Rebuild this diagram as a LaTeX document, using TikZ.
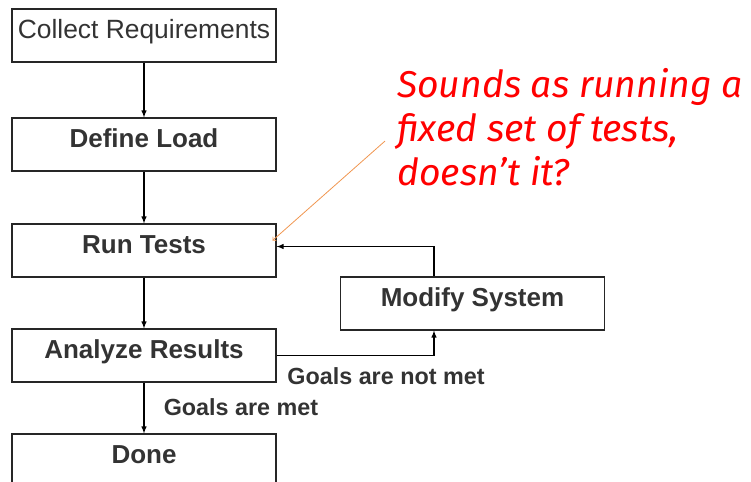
\documentclass[tikz,border=0pt]{standalone}
\usepackage{fontspec}
\setmainfont{Liberation Sans}
\newfontfamily\handfont{Fira Sans}
\usetikzlibrary{positioning,arrows}

\definecolor{txtgray}{RGB}{51,51,51}
\definecolor{notered}{RGB}{255,0,0}
\definecolor{noteline}{RGB}{240,150,80}

\begin{document}
\begin{tikzpicture}[
x=0.75pt,
y=-0.75pt,
stage/.style={
  draw=black!85,
  rectangle,
  line width=0.8pt,
  minimum width=198pt,
  minimum height=39.75pt,
  inner sep=0pt,
  text=txtgray,
  font=\fontsize{19.5}{22}\selectfont\bfseries,
  text height=0.72em,
  text depth=0.3em
  },
branch/.style={
  inner sep=0pt,
  text=txtgray,
  font=\fontsize{17.5}{20}\selectfont\bfseries
  },
remark/.style={
  inner sep=0pt,
  align=left,
  text=notered,
  font=\fontsize{28}{33}\selectfont\handfont\itshape
  },
>=latex
]
\useasboundingbox (0,0) rectangle (751,482);

% flow boxes
\node[stage, font=\fontsize{19.8}{22}\selectfont] (collect) at (144,35.5) {Collect Requirements};
\node[stage] (define) at (144,144.5) {Define Load};
\node[stage] (run) at (144,250.5) {Run Tests};
\node[stage] (modify) at (472.5,303.5) {Modify System};
\node[stage] (analyze) at (144,355.5) {Analyze Results};
\node[stage] (done) at (144,460.5) {Done};

% labels
\node[branch] (notmet) at (386,376) {Goals are not met};
\node[branch] (met) at (241,407) {Goals are met};

\node[remark, anchor=north west] (note) at (397,68)
  {Sounds as running a\\fixed set of tests,\\doesn’t it?};

% connectors
\draw[->, line width=0.85pt] (collect) -- (define);
\draw[->, line width=0.85pt] (define) -- (run);
\draw[->, line width=0.85pt] (run) -- (analyze);
\draw[->, line width=0.85pt] (analyze) -- (done);
\coordinate (tap) at (434,0);
\draw[->, line width=0.85pt] (analyze.east) -| (modify.south -| tap);
\draw[->, line width=0.85pt] (modify.north -| tap) |- ([yshift=3pt]run.east);
\draw[-to, noteline, line width=0.6pt] ([shift={(-12,14)}]note.west) -- ([shift={(-4,-10)}]run.east);
\end{tikzpicture}
\end{document}
